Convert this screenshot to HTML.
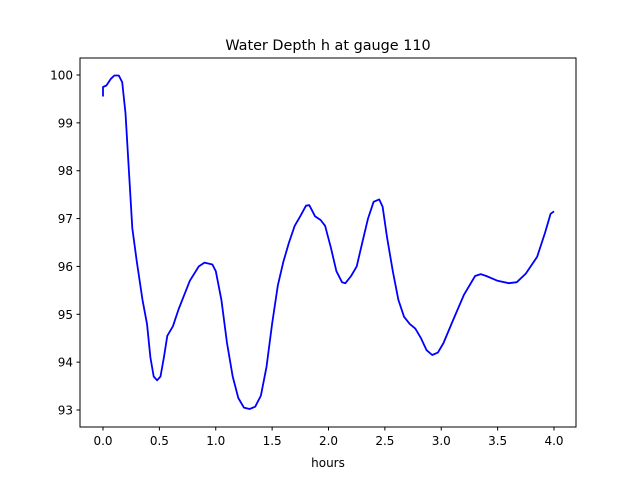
<!DOCTYPE html>
<html><head><meta charset="utf-8"><style>
html,body{margin:0;padding:0;background:#fff;}
svg text{font-family:"DejaVu Sans","Liberation Sans",sans-serif;fill:#000;}
</style></head><body>
<svg width="640" height="480" xmlns="http://www.w3.org/2000/svg">
<rect width="640" height="480" fill="#fff"/>
<text x="328" y="50" font-size="14.4" text-anchor="middle">Water Depth h at gauge 110</text>
<g id="plot"></g>
<rect x="80" y="58" width="496" height="369" fill="none" stroke="#000" stroke-width="1"/>
<text x="328" y="467" font-size="12" text-anchor="middle">hours</text>
</svg>
<script>
const xs=[0,0,0.03,0.07,0.1,0.14,0.17,0.2,0.23,0.26,0.3,0.35,0.39,0.42,0.45,0.48,0.51,0.54,0.57,0.62,0.67,0.72,0.77,0.85,0.9,0.97,1.0,1.05,1.1,1.15,1.2,1.25,1.3,1.35,1.4,1.45,1.5,1.55,1.6,1.65,1.7,1.75,1.8,1.83,1.88,1.93,1.97,2.02,2.07,2.12,2.15,2.2,2.25,2.3,2.35,2.4,2.45,2.48,2.52,2.57,2.62,2.67,2.72,2.77,2.82,2.87,2.92,2.97,3.02,3.1,3.2,3.3,3.35,3.4,3.5,3.6,3.67,3.75,3.85,3.92,3.97,4.0];
const ys=[99.55,99.75,99.78,99.92,99.99,99.99,99.85,99.2,98.0,96.8,96.1,95.3,94.8,94.1,93.7,93.62,93.7,94.1,94.55,94.75,95.1,95.4,95.7,96.0,96.08,96.04,95.9,95.3,94.4,93.7,93.25,93.05,93.02,93.07,93.3,93.9,94.8,95.6,96.1,96.5,96.85,97.05,97.27,97.28,97.05,96.97,96.85,96.4,95.9,95.67,95.65,95.8,96.0,96.5,97.0,97.35,97.4,97.25,96.6,95.9,95.3,94.95,94.8,94.7,94.5,94.25,94.15,94.2,94.4,94.85,95.4,95.8,95.84,95.8,95.7,95.65,95.67,95.85,96.2,96.7,97.1,97.15];
const xTicks=[0,0.5,1,1.5,2,2.5,3,3.5,4];
const xTickLabels=["0.0","0.5","1.0","1.5","2.0","2.5","3.0","3.5","4.0"];
const yTicks=[93,94,95,96,97,98,99,100];
const yTickLabels=["93","94","95","96","97","98","99","100"];
const NS="http://www.w3.org/2000/svg";
const X=v=>103+v*112.75;
const Y=v=>410-(v-93)*47.857;
const g=document.getElementById('plot');
xTicks.forEach((t,i)=>{
 const l=document.createElementNS(NS,'line');
 l.setAttribute('x1',X(t));l.setAttribute('x2',X(t));l.setAttribute('y1',427);l.setAttribute('y2',430.5);l.setAttribute('stroke','#000');
 
 
 g.appendChild(l);
 const tx=document.createElementNS(NS,'text');
 tx.setAttribute('x',X(t));tx.setAttribute('y',445);tx.setAttribute('font-size','12');tx.setAttribute('text-anchor','middle');
 tx.textContent=xTickLabels[i];
 
 
 g.appendChild(tx);
});
yTicks.forEach((t,i)=>{
 const l=document.createElementNS(NS,'line');
 l.setAttribute('x1',76.5);l.setAttribute('x2',80);l.setAttribute('y1',Y(t));l.setAttribute('y2',Y(t));l.setAttribute('stroke','#000');
 
 
 g.appendChild(l);
 const tx=document.createElementNS(NS,'text');
 tx.setAttribute('x',73);tx.setAttribute('y',Y(t)+4.5);tx.setAttribute('font-size','12');tx.setAttribute('text-anchor','end');
 tx.textContent=yTickLabels[i];
 
 
 g.appendChild(tx);
});
const p=document.createElementNS(NS,'polyline');
p.setAttribute('points',xs.map((x,i)=>X(x).toFixed(1)+','+Y(ys[i]).toFixed(1)).join(' '));
p.setAttribute('fill','none');p.setAttribute('stroke','#0000ff');p.setAttribute('stroke-width','1.8');p.setAttribute('stroke-linejoin','round');


g.appendChild(p);
</script>
</body></html>
